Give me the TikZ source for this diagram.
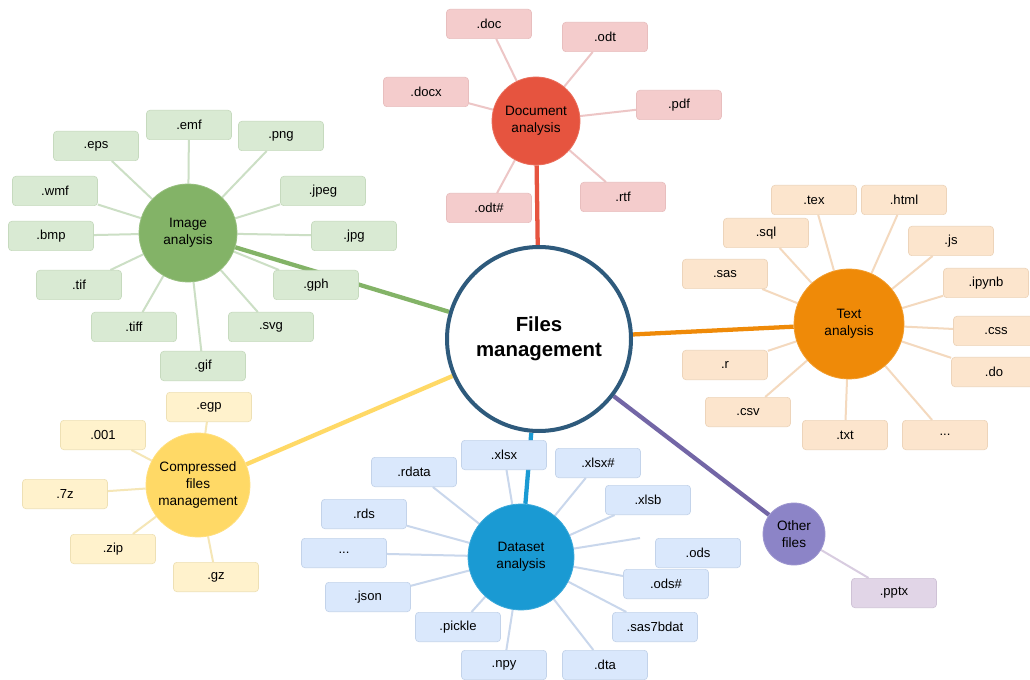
\documentclass[tikz,border=0pt]{standalone}
\usepackage{fontspec}
\setmainfont{Liberation Sans}
\usetikzlibrary{backgrounds}
\definecolor{mainB}{HTML}{2E5A7C}
\definecolor{docC}{HTML}{E6543F}
\definecolor{docB}{HTML}{F4CCCC}
\definecolor{docD}{HTML}{E8BEBE}
\definecolor{docL}{HTML}{EDC6C6}
\definecolor{imgC}{HTML}{83B367}
\definecolor{imgB}{HTML}{D9EAD3}
\definecolor{imgD}{HTML}{C6DABE}
\definecolor{imgL}{HTML}{CCDFC5}
\definecolor{txtC}{HTML}{EF8A08}
\definecolor{txtB}{HTML}{FCE5CD}
\definecolor{txtD}{HTML}{EDD4BA}
\definecolor{txtL}{HTML}{F4D9BE}
\definecolor{cmpC}{HTML}{FFD966}
\definecolor{cmpB}{HTML}{FFF2CC}
\definecolor{cmpD}{HTML}{EEE0B4}
\definecolor{cmpL}{HTML}{F5E6B6}
\definecolor{dsC}{HTML}{1A9AD3}
\definecolor{dsB}{HTML}{DAE8FC}
\definecolor{dsD}{HTML}{C3D3EA}
\definecolor{dsL}{HTML}{C9D7EC}
\definecolor{othC}{HTML}{8C84C7}
\definecolor{othB}{HTML}{E1D5E7}
\definecolor{othD}{HTML}{CFC2D6}
\definecolor{othL}{HTML}{D8CCE0}
\definecolor{othM}{HTML}{7366A6}
\tikzset{
  box/.style={rectangle, rounded corners=2.5pt, minimum width=63.75pt, minimum height=22pt, inner sep=1pt, font=\fontsize{9.8pt}{11pt}\selectfont, line width=0.5pt},
  hub/.style={circle, inner sep=0pt, align=center, font=\fontsize{10.2pt}{12.8pt}\selectfont, line width=0.6pt},
  spoke/.style={line width=1.5pt},
  trunk/.style={line width=3.2pt},
}
\begin{document}
\begin{tikzpicture}[x=0.75pt,y=-0.75pt]
\useasboundingbox (0,0) rectangle (1030,680);
% hubs
\node[circle, draw=mainB, fill=white, line width=3pt, minimum size=138pt, inner sep=0pt, align=center, font=\fontsize{15.3pt}{19pt}\selectfont\bfseries] (main) at (539,339) {Files\\management};
\node[hub, fill=docC, draw=docC!85!white, minimum size=66pt] (doc) at (536,121) {Document\\analysis};
\node[hub, fill=imgC, draw=imgC!85!white, minimum size=73.5pt] (img) at (188,233) {Image\\analysis};
\node[hub, fill=txtC, draw=txtC!85!white, minimum size=82.5pt] (txt) at (849,324) {Text\\analysis};
\node[hub, fill=cmpC, draw=cmpC!85!white, minimum size=78pt] (cmp) at (198,485) {Compressed\\files\\management};
\node[hub, fill=dsC, draw=dsC!85!white, minimum size=79.5pt] (ds) at (521,557) {Dataset\\analysis};
\node[hub, fill=othC, draw=othC!85!white, minimum size=46.5pt] (oth) at (794,534) {Other\\files};
% document boxes
\begin{scope}[every node/.style={box, fill=docB, draw=docD}]
\node (doc1) at (489,24) {.doc};
\node (doc2) at (605,37) {.odt};
\node (doc3) at (426,92) {.docx};
\node (doc4) at (679,105) {.pdf};
\node (doc5) at (489,208) {.odt\#};
\node (doc6) at (623,197) {.rtf};
\end{scope}
% image boxes
\begin{scope}[every node/.style={box, fill=imgB, draw=imgD}]
\node (img1) at (189,125) {.emf};
\node (img2) at (96,146) {.eps};
\node (img3) at (281,136) {.png};
\node (img4) at (55,191) {.wmf};
\node (img5) at (323,191) {.jpeg};
\node (img6) at (51,236) {.bmp};
\node (img7) at (354,236) {.jpg};
\node (img8) at (79,285) {.tif};
\node (img9) at (316,285) {.gph};
\node (img10) at (134,327) {.tiff};
\node (img11) at (271,327) {.svg};
\node (img12) at (203,366) {.gif};
\end{scope}
% text boxes
\begin{scope}[every node/.style={box, fill=txtB, draw=txtD}]
\node (txt1) at (814,200) {.tex};
\node (txt2) at (904,200) {.html};
\node (txt3) at (766,233) {.sql};
\node (txt4) at (951,241) {.js};
\node (txt5) at (725,274) {.sas};
\node (txt6) at (986,283) {.ipynb};
\node (txt7) at (996,331) {.css};
\node (txt8) at (994,372) {.do};
\node (txt9) at (725,365) {.r};
\node (txt10) at (748,412) {.csv};
\node (txt11) at (845,435) {.txt};
\node (txt12) at (945,435) {...};
\end{scope}
% compressed boxes
\begin{scope}[every node/.style={box, fill=cmpB, draw=cmpD}]
\node (cmp1) at (209,407) {.egp};
\node (cmp2) at (103,435) {.001};
\node (cmp3) at (65,494) {.7z};
\node (cmp4) at (113,549) {.zip};
\node (cmp5) at (216,577) {.gz};
\end{scope}
% dataset boxes
\begin{scope}[every node/.style={box, fill=dsB, draw=dsD}]
\node (ds1) at (504,455) {.xlsx};
\node (ds2) at (414,472) {.rdata};
\node (ds3) at (598,463) {.xlsx\#};
\node (ds4) at (648,500) {.xlsb};
\node (ds5) at (364,514) {.rds};
\node (ds6) at (344,553) {...};
\node (ds7) at (698,553) {.ods};
\node (ds8) at (368,597) {.json};
\node (ds9) at (666,584) {.ods\#};
\node (ds10) at (458,627) {.pickle};
\node (ds11) at (655,627) {.sas7bdat};
\node (ds12) at (504,665) {.npy};
\node (ds13) at (605,665) {.dta};
\end{scope}
\coordinate (dsfree) at (640,538);
\node[box, fill=othB, draw=othD] (oth1) at (894,593) {.pptx};
% connectors
\begin{pgfonlayer}{background}
\fill[white] (0,0) rectangle (1030,680);
\foreach \i in {1,...,6} \draw[spoke, docL] (doc) -- (doc\i);
\foreach \i in {1,...,12} \draw[spoke, imgL] (img) -- (img\i);
\foreach \i in {1,...,12} \draw[spoke, txtL] (txt) -- (txt\i);
\foreach \i in {1,...,5} \draw[spoke, cmpL] (cmp) -- (cmp\i);
\foreach \i in {1,2,3,4,5,6,8,9,10,11,12,13} \draw[spoke, dsL] (ds) -- (ds\i);
\draw[spoke, dsL] (ds) -- (dsfree);
\draw[spoke, othL] (oth) -- (oth1);
\draw[trunk, docC] (main) -- (doc);
\draw[trunk, imgC] (main) -- (img);
\draw[trunk, txtC] (main) -- (txt);
\draw[trunk, cmpC] (main) -- (cmp);
\draw[trunk, dsC] (main) -- (ds);
\draw[trunk, othM] (main) -- (oth);
\end{pgfonlayer}
\end{tikzpicture}
\end{document}
